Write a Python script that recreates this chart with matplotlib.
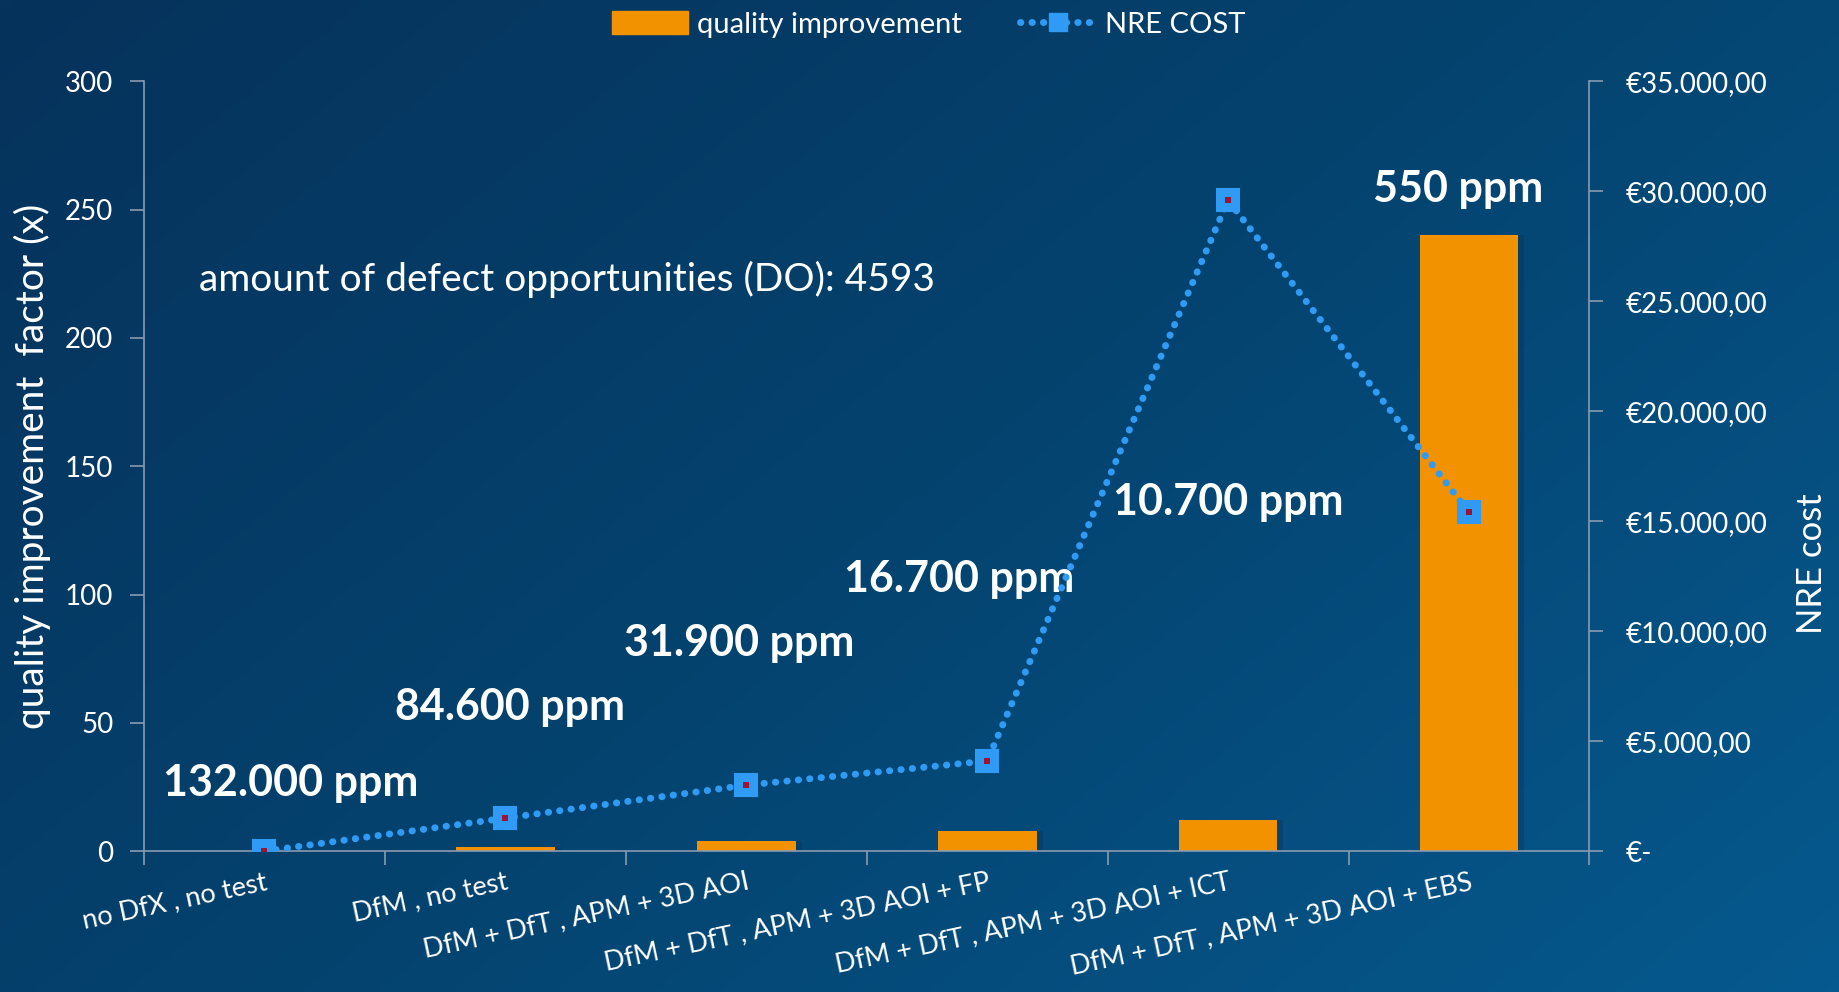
import numpy as np
import matplotlib
matplotlib.use("Agg")
import matplotlib.pyplot as plt
from matplotlib.patches import Patch
from matplotlib.lines import Line2D
from matplotlib.colors import LinearSegmentedColormap

plt.rcParams['font.family'] = ['Lato', 'DejaVu Sans']

# data
categories = ['no DfX , no test', 'DfM , no test', 'DfM + DfT , APM + 3D AOI',
              'DfM + DfT , APM + 3D AOI + FP', 'DfM + DfT , APM + 3D AOI + ICT',
              'DfM + DfT , APM + 3D AOI + EBS']
quality = [0.0, 1.56, 4.14, 7.9, 12.3, 240.0]
nre_cost = [0, 1500, 3000, 4100, 29600, 15400]
ppm_labels = ['132.000 ppm', '84.600 ppm', '31.900 ppm', '16.700 ppm', '10.700 ppm', '550 ppm']
left_ticks = [0, 50, 100, 150, 200, 250, 300]
right_ticks = [0, 5000, 10000, 15000, 20000, 25000, 30000, 35000]
right_ticklabels = ['€-', '€5.000,00', '€10.000,00', '€15.000,00', '€20.000,00',
                    '€25.000,00', '€30.000,00', '€35.000,00']

ORANGE = '#f39200'
BLUE = '#2f9bf5'
GREY = '#8a9bb0'
DOTS = (0, (0.05, 1.6))

fig = plt.figure(figsize=(18.39, 9.92), dpi=100)

# gradient background
bg = fig.add_axes([0, 0, 1, 1], zorder=-10)
gx, gy = np.meshgrid(np.linspace(0, 1, 300), np.linspace(0, 1, 200))
grad = 0.6 * gx + 0.4 * gy
cmap = LinearSegmentedColormap.from_list('bg', ['#06325b', '#04436f', '#06598e'])
bg.imshow(grad, cmap=cmap, aspect='auto', extent=[0, 1, 0, 1], origin='upper')
bg.axis('off')

ax = fig.add_axes([0.0783, 0.142, 0.786, 0.776])
ax.patch.set_alpha(0)
x = np.arange(len(categories))

# soft shadow behind the bars
ax.bar(x + 0.025, quality, width=0.41, color='#062848', alpha=0.25, zorder=1)
ax.bar(x, quality, width=0.41, color=ORANGE, zorder=2)
ax.set_xlim(-0.5, len(categories) - 0.5)
ax.set_ylim(0, 300)
ax.set_yticks(left_ticks)
ax.set_xticks(np.arange(len(categories) + 1) - 0.5)
ax.set_xticklabels([])
ax.set_xticks(x, minor=True)
ax.set_xticklabels(categories, minor=True, rotation=12, ha='right', va='top',
                   rotation_mode='anchor', fontsize=19.5, color='white')
ax.tick_params(axis='x', which='minor', length=0, pad=13)
ax.tick_params(axis='x', which='major', length=10, color=GREY, width=1.2)
ax.tick_params(axis='y', length=10, color=GREY, width=1.2, labelsize=20,
               labelcolor='white', pad=12)
for s in ['left', 'bottom']:
    ax.spines[s].set_color(GREY)
    ax.spines[s].set_linewidth(1.2)
ax.spines['top'].set_visible(False)
ax.spines['right'].set_visible(False)
ax.set_ylabel('quality improvement  factor (x)', fontsize=28, color='white', labelpad=10)

ax2 = ax.twinx()
ax2.plot(x, nre_cost, linestyle=DOTS, dash_capstyle='round', linewidth=5,
         color=BLUE, zorder=3)
ax2.plot(x, nre_cost, linestyle='none', marker='s', markersize=16, markerfacecolor=BLUE,
         markeredgecolor=BLUE, markeredgewidth=1.5, zorder=4)
ax2.plot(x, nre_cost, linestyle='none', marker='s', markersize=4.5, markerfacecolor='#9b1537',
         markeredgewidth=0, zorder=5)
ax2.set_ylim(0, 35000)
ax2.set_yticks(right_ticks)
ax2.set_yticklabels(right_ticklabels)
ax2.tick_params(axis='y', length=10, color=GREY, width=1.2, labelsize=20,
                labelcolor='white', pad=16)
ax2.spines['right'].set_color(GREY)
ax2.spines['right'].set_linewidth(1.2)
for s in ['left', 'top', 'bottom']:
    ax2.spines[s].set_visible(False)
ax2.set_ylabel('NRE cost', fontsize=25, color='white')
ax2.yaxis.set_label_coords(1.143, 0.373)

# ppm labels
ppm_pos = [(0.11, 26.5), (1.02, 56), (1.97, 81), (2.885, 106), (4.0, 136), (4.955, 258)]
for lab, (px, py) in zip(ppm_labels, ppm_pos):
    ax.text(px, py, lab, ha='center', va='center', fontsize=31, fontweight='bold',
            color='white', zorder=6)

ax.text(-0.27, 223, 'amount of defect opportunities (DO): 4593', ha='left', va='center',
        fontsize=28, color='white')

handles = [Patch(facecolor=ORANGE, edgecolor=ORANGE),
           Line2D([0], [0], linestyle=DOTS, dash_capstyle='round', linewidth=5,
                  color=BLUE, marker='s', markersize=13, markerfacecolor=BLUE)]
leg = fig.legend(handles, ['quality improvement', 'NRE COST'], loc='upper center',
                 bbox_to_anchor=(0.505, 1.015), ncol=2, frameon=False, fontsize=21,
                 handlelength=2.6, handleheight=0.8, columnspacing=2.0, handletextpad=0.3)
for t in leg.get_texts():
    t.set_color('white')

fig.savefig('out.png', dpi=100)
